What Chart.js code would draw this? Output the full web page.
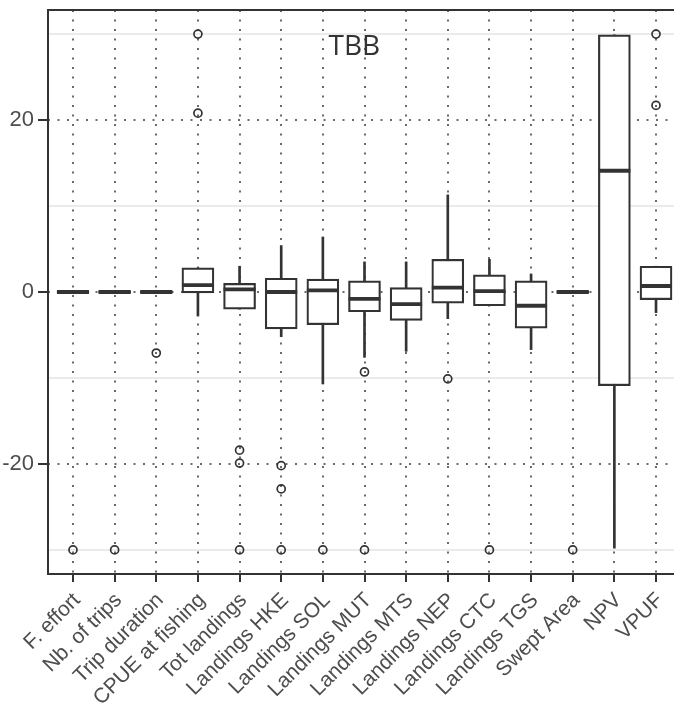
<!DOCTYPE html>
<html>
<head>
<meta charset="utf-8">
<title>TBB</title>
<script src="https://cdn.jsdelivr.net/npm/chart.js@4.4.1/dist/chart.umd.min.js"></script>
<style>
  html, body { margin: 0; padding: 0; background: #fff; overflow: hidden; }
  #wrap { width: 690px; height: 709px; }
</style>
</head>
<body>
<div id="wrap"><canvas id="boxChart" width="690" height="709"></canvas></div>
<script>
// ===== DATA =====
const categories = [
    'F. effort', 'Nb. of trips', 'Trip duration', 'CPUE at fishing', 'Tot landings',
    'Landings HKE', 'Landings SOL', 'Landings MUT', 'Landings MTS', 'Landings NEP',
    'Landings CTC', 'Landings TGS', 'Swept Area', 'NPV', 'VPUF'
];
const whiskerLow  = [0, 0, 0, -2.8, -2.0, -5.2, -10.7, -7.6, -6.9, -3.1, -1.6, -6.7, 0, -29.8, -2.4];
const q1          = [-0.15, -0.15, -0.15, -0.1, -2.0, -4.3, -3.8, -2.3, -3.3, -1.3, -1.6, -4.2, -0.15, -10.9, -0.9];
const median      = [0, 0, 0, 0.8, 0.3, 0, 0.2, -0.8, -1.4, 0.5, 0.1, -1.6, 0, 14.1, 0.7];
const q3          = [0.15, 0.15, 0.15, 2.8, 1.0, 1.6, 1.5, 1.3, 0.5, 3.8, 2.0, 1.3, 0.15, 29.9, 3.0];
const whiskerHigh = [0, 0, 0, 2.8, 3.0, 5.4, 6.4, 3.5, 3.5, 11.3, 3.8, 2.1, 0, 29.9, 3.0];
const outliers = [
    [-30], [-30], [-7.1], [30, 20.8], [-18.4, -19.9, -30],
    [-20.2, -22.9, -30], [-30], [-9.3, -30], [], [-10.1],
    [-30], [], [-30], [], [30, 21.7]
];
const yTicks = [-20, 0, 20];
const yMinorTicks = [-30, -10, 10, 30];
const panelTitle = 'TBB';

// ===== STYLE =====
const INK = '#333333';
const AXIS_TEXT = '#4d4d4d';
const DOT_GRID = '#6a6a6a';
const SANS = '"Liberation Sans", Arial, sans-serif';

// ===== BUILD DATASETS =====
const whiskerData = categories.map((_, i) => ({ x: i, y: [whiskerLow[i], whiskerHigh[i]] }));
const boxData = categories.map((_, i) => ({ x: i, y: [q1[i], q3[i]] }));
const medianData = categories.map((_, i) => ({ x: i, y: median[i] }));
const outlierData = outliers.flatMap((vals, i) => vals.map(v => ({ x: i, y: v })));

// minor grid + panel border + title
const panelPlugin = {
    id: 'panel',
    beforeDraw(chart) {
        const { ctx, chartArea: a, scales: { y } } = chart;
        ctx.save();
        ctx.fillStyle = '#ffffff';
        ctx.fillRect(0, 0, chart.width, chart.height);
        ctx.strokeStyle = '#ebebeb';
        ctx.lineWidth = 2;
        yMinorTicks.forEach(v => {
            const py = y.getPixelForValue(v);
            ctx.beginPath();
            ctx.moveTo(a.left, py);
            ctx.lineTo(a.right, py);
            ctx.stroke();
        });
        ctx.restore();
    },
    afterDraw(chart) {
        const { ctx, chartArea: a } = chart;
        ctx.save();
        ctx.strokeStyle = INK;
        ctx.lineWidth = 2;
        ctx.strokeRect(a.left, a.top, a.right - a.left, a.bottom - a.top);
        ctx.font = '28px "Open Sans", sans-serif';
        ctx.fillStyle = '#333333';
        ctx.textAlign = 'center';
        ctx.textBaseline = 'alphabetic';
        ctx.fillText(panelTitle, a.left + 0.484 * (a.right - a.left), a.top + 45);
        ctx.restore();
    }
};

new Chart(document.getElementById('boxChart'), {
    type: 'bar',
    data: {
        datasets: [
            {
                type: 'bar', label: 'whisker', data: whiskerData,
                backgroundColor: INK, borderWidth: 0,
                barThickness: 2, grouped: false, order: 4
            },
            {
                type: 'bar', label: 'box', data: boxData,
                backgroundColor: '#ffffff', borderColor: INK, borderWidth: 2.2,
                borderSkipped: false, barThickness: 32, grouped: false, order: 3
            },
            {
                type: 'scatter', label: 'median', data: medianData,
                pointStyle: 'line', pointRadius: 16,
                pointBorderColor: INK, pointBorderWidth: 3.8, order: 2
            },
            {
                type: 'scatter', label: 'outlier', data: outlierData,
                pointStyle: 'circle', pointRadius: 4,
                pointBorderColor: INK, pointBorderWidth: 1.7,
                pointBackgroundColor: 'rgba(0,0,0,0)', order: 1
            }
        ]
    },
    options: {
        responsive: false,
        animation: false,
        layout: { autoPadding: false, padding: { top: 10, right: 9, left: 0, bottom: 0 } },
        plugins: {
            legend: { display: false },
            tooltip: { enabled: false }
        },
        scales: {
            x: {
                type: 'linear',
                min: -0.6,
                max: categories.length - 0.4,
                offset: false,
                afterBuildTicks: s => { s.ticks = categories.map((_, i) => ({ value: i })); },
                afterFit: s => {
                    s.height = 135;
                    s.paddingLeft = 0;
                    s.paddingRight = 0;
                },
                ticks: {
                    callback: v => categories[v],
                    autoSkip: false,
                    minRotation: 45,
                    maxRotation: 45,
                    padding: 6,
                    labelOffset: 4,
                    color: AXIS_TEXT,
                    font: { family: SANS, size: 21 }
                },
                grid: {
                    offset: false,
                    color: DOT_GRID, lineWidth: 2,
                    tickLength: 8, tickColor: INK, tickWidth: 2
                },
                border: { display: false, dash: [2, 7.5] }
            },
            y: {
                min: -32.8,
                max: 32.8,
                afterBuildTicks: s => { s.ticks = yTicks.map(v => ({ value: v })); },
                afterFit: s => {
                    s.width = 48;
                    s.paddingTop = 0;
                    s.paddingBottom = 0;
                },
                ticks: {
                    padding: 4,
                    color: AXIS_TEXT,
                    font: { family: SANS, size: 22 }
                },
                grid: {
                    color: DOT_GRID, lineWidth: 2,
                    tickLength: 10, tickColor: INK, tickWidth: 2
                },
                border: { display: false, dash: [2, 7.5] }
            }
        }
    },
    plugins: [panelPlugin]
});
</script>
</body>
</html>
